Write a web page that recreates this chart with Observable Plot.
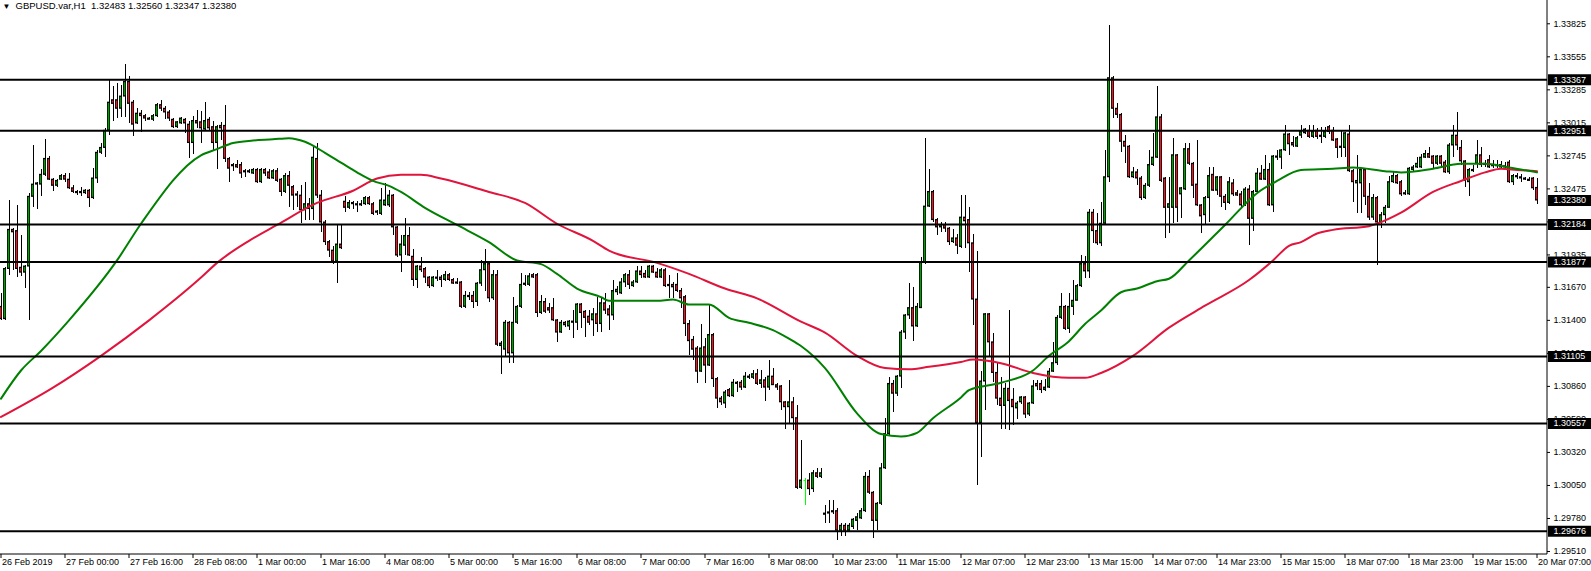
<!DOCTYPE html>
<html><head><meta charset="utf-8">
<script src="https://cdn.jsdelivr.net/npm/d3@7"></script>
<script src="https://cdn.jsdelivr.net/npm/@observablehq/plot@0.6"></script>
<style>html,body{margin:0;padding:0;background:#fff;overflow:hidden}</style>
</head><body>
<div id="chart"></div>
<script>
const symbol = "GBPUSD.var,H1";
const lastBar = [1.32483, 1.32560, 1.32347, 1.32380];

const opens = [
1.3151,1.3141,1.3182,1.3214,1.3213,1.3183,1.3179,1.3184,1.3241,1.3251,
1.3251,1.3259,1.3272,1.3255,1.3250,1.3255,1.3258,1.3255,1.3248,1.3245,
1.3245,1.3244,1.3246,1.3240,1.3256,1.3277,1.3281,1.3295,1.3320,1.3320,
1.3313,1.3323,1.3335,1.3318,1.3301,1.3309,1.3307,1.3305,1.3304,1.3307,
1.3316,1.3313,1.3310,1.3304,1.3298,1.3301,1.3304,1.3300,1.3285,1.3303,
1.3302,1.3296,1.3304,1.3298,1.3285,1.3299,1.3299,1.3272,1.3267,1.3267,
1.3267,1.3262,1.3261,1.3260,1.3263,1.3253,1.3263,1.3261,1.3256,1.3262,
1.3255,1.3245,1.3258,1.3249,1.3243,1.3242,1.3230,1.3235,1.3231,1.3272,
1.3242,1.3220,1.3204,1.3197,1.3188,1.3202,1.3237,1.3232,1.3236,1.3235,
1.3234,1.3235,1.3240,1.3235,1.3228,1.3227,1.3234,1.3234,1.3242,1.3216,
1.3193,1.3201,1.3209,1.3192,1.3173,1.3184,1.3182,1.3175,1.3168,1.3175,
1.3175,1.3173,1.3177,1.3173,1.3171,1.3171,1.3151,1.3160,1.3160,1.3155,
1.3170,1.3181,1.3186,1.3158,1.3177,1.3119,1.3116,1.3138,1.3113,1.3138,
1.3151,1.3169,1.3169,1.3177,1.3177,1.3146,1.3155,1.3150,1.3150,1.3140,
1.3130,1.3138,1.3135,1.3139,1.3138,1.3153,1.3147,1.3143,1.3140,1.3145,
1.3137,1.3154,1.3149,1.3144,1.3163,1.3162,1.3171,1.3177,1.3168,1.3171,
1.3180,1.3178,1.3175,1.3184,1.3179,1.3175,1.3181,1.3169,1.3169,1.3169,
1.3164,1.3159,1.3137,1.3124,1.3117,1.3098,1.3118,1.3103,1.3128,1.3092,
1.3076,1.3072,1.3083,1.3078,1.3089,1.3089,1.3085,1.3093,1.3093,1.3096,
1.3088,1.3091,1.3085,1.3094,1.3087,1.3086,1.3073,1.3069,1.3073,1.3060,
1.3003,1.3009,1.3009,1.3002,1.3015,1.3012,1.2982,1.2982,1.2983,1.2984,
1.2968,1.2972,1.2968,1.2971,1.2976,1.2978,1.2984,1.3012,1.2999,1.2976,
1.2990,1.3019,1.3047,1.3088,1.3080,1.3094,1.3130,1.3144,1.3150,1.3135,
1.3150,1.3187,1.3233,1.3245,1.3222,1.3216,1.3218,1.3215,1.3204,1.3207,
1.3200,1.3224,1.3222,1.3203,1.3157,1.3056,1.3090,1.3145,1.3122,1.3097,
1.3076,1.3070,1.3084,1.3075,1.3068,1.3073,1.3077,1.3063,1.3072,1.3088,
1.3088,1.3083,1.3085,1.3098,1.3105,1.3142,1.3151,1.3133,1.3151,1.3156,
1.3168,1.3186,1.3180,1.3228,1.3213,1.3203,1.3219,1.3257,1.3338,1.3313,
1.3308,1.3286,1.3282,1.3257,1.3261,1.3256,1.3240,1.3250,1.3267,1.3273,
1.3306,1.3256,1.3232,1.3232,1.3275,1.3243,1.3247,1.3280,1.3268,1.3251,
1.3234,1.3226,1.3240,1.3259,1.3246,1.3257,1.3241,1.3236,1.3252,1.3244,
1.3243,1.3234,1.3247,1.3223,1.3245,1.3260,1.3255,1.3263,1.3234,1.3274,
1.3273,1.3279,1.3292,1.3285,1.3282,1.3291,1.3293,1.3295,1.3290,1.3295,
1.3290,1.3290,1.3298,1.3295,1.3288,1.3281,1.3281,1.3292,1.3262,1.3252,
1.3252,1.3263,1.3241,1.3224,1.3240,1.3220,1.3226,1.3232,1.3253,1.3258,
1.3253,1.3243,1.3243,1.3263,1.3265,1.3265,1.3273,1.3276,1.3274,1.3268,
1.3274,1.3269,1.3261,1.3283,1.3291,1.3281,1.3270,1.3253,1.3263,1.3268,
1.3275,1.3267,1.3271,1.3266,1.3267,1.3267,1.3265,1.3269,1.3253,1.3258,
1.3257,1.3256,1.3255,1.3256,1.32483];

const highs = [
1.3162,1.3183,1.3238,1.3215,1.3234,1.3209,1.3185,1.3244,1.3283,1.3253,
1.3263,1.3288,1.3274,1.3256,1.3255,1.3259,1.3260,1.3260,1.3250,1.3246,
1.3249,1.3247,1.3247,1.3264,1.3279,1.3285,1.3297,1.3337,1.3331,1.3334,
1.3332,1.3349,1.3339,1.3320,1.3313,1.3312,1.3308,1.3306,1.3308,1.3317,
1.3320,1.3315,1.3312,1.3305,1.3303,1.3306,1.3305,1.3303,1.3307,1.3312,
1.3311,1.3318,1.3306,1.3303,1.3299,1.3302,1.3316,1.3273,1.3268,1.3271,
1.3269,1.3263,1.3263,1.3264,1.3264,1.3264,1.3264,1.3263,1.3263,1.3264,
1.3256,1.3260,1.3262,1.3250,1.3245,1.3250,1.3253,1.3240,1.3283,1.3285,
1.3246,1.3222,1.3205,1.3200,1.3218,1.3218,1.3241,1.3238,1.3237,1.3237,
1.3238,1.3241,1.3241,1.3236,1.3230,1.3248,1.3252,1.3246,1.3243,1.3217,
1.3209,1.3223,1.3216,1.3198,1.3185,1.3191,1.3183,1.3176,1.3176,1.3181,
1.3177,1.3180,1.3178,1.3174,1.3174,1.3172,1.3164,1.3163,1.3164,1.3171,
1.3189,1.3198,1.3187,1.3181,1.3181,1.3123,1.3140,1.3139,1.3159,1.3152,
1.3178,1.3177,1.3178,1.3178,1.3178,1.3160,1.3158,1.3154,1.3158,1.3141,
1.3140,1.3139,1.3140,1.3148,1.3154,1.3154,1.3148,1.3148,1.3150,1.3159,
1.3159,1.3162,1.3152,1.3173,1.3168,1.3174,1.3178,1.3181,1.3173,1.3184,
1.3184,1.3181,1.3185,1.3185,1.3182,1.3182,1.3182,1.3177,1.3171,1.3178,
1.3166,1.3160,1.3140,1.3127,1.3119,1.3137,1.3125,1.3152,1.3129,1.3093,
1.3078,1.3083,1.3084,1.3092,1.3090,1.3091,1.3097,1.3096,1.3099,1.3100,
1.3099,1.3093,1.3107,1.3101,1.3088,1.3087,1.3074,1.3091,1.3077,1.3070,
1.3042,1.3011,1.3015,1.3017,1.3019,1.3019,1.2989,1.2993,1.2993,1.2986,
1.2974,1.2974,1.2974,1.2978,1.2982,1.2986,1.3016,1.3017,1.3000,1.2991,
1.3023,1.3060,1.3093,1.3091,1.3095,1.3132,1.3145,1.3170,1.3167,1.3154,
1.3191,1.3289,1.3263,1.3246,1.3223,1.3220,1.3220,1.3216,1.3214,1.3210,
1.3242,1.3242,1.3232,1.3210,1.3196,1.3098,1.3146,1.3146,1.3129,1.3105,
1.3093,1.3088,1.3148,1.3084,1.3074,1.3078,1.3078,1.3073,1.3091,1.3091,
1.3091,1.3092,1.3101,1.3122,1.3144,1.3162,1.3152,1.3162,1.3173,1.3169,
1.3193,1.3192,1.3231,1.3231,1.3227,1.3236,1.3279,1.3381,1.3339,1.3317,
1.3309,1.3291,1.3283,1.3265,1.3263,1.3258,1.3252,1.3279,1.3293,1.3331,
1.3308,1.3257,1.3257,1.3289,1.3276,1.3249,1.3285,1.3285,1.3269,1.3287,
1.3235,1.3241,1.3265,1.3265,1.3258,1.3258,1.3243,1.3257,1.3255,1.3246,
1.3245,1.3249,1.3250,1.3246,1.3264,1.3267,1.3275,1.3268,1.3275,1.3279,
1.3280,1.3299,1.3293,1.3290,1.3290,1.3299,1.3297,1.3299,1.3299,1.3297,
1.3298,1.3298,1.3299,1.3298,1.3289,1.3295,1.3294,1.3299,1.3263,1.3275,
1.3264,1.3263,1.3252,1.3243,1.3241,1.3228,1.3234,1.3258,1.3261,1.3259,
1.3254,1.3246,1.3265,1.3267,1.3273,1.3276,1.3279,1.3281,1.3275,1.3275,
1.3275,1.3271,1.3285,1.3299,1.3310,1.3287,1.3271,1.3264,1.3267,1.3287,
1.3281,1.3271,1.3275,1.3271,1.3271,1.3270,1.3269,1.3271,1.3259,1.3260,
1.3259,1.3257,1.3257,1.3257,1.32560];

const lows = [
1.3140,1.3140,1.3177,1.3181,1.3175,1.3176,1.3166,1.3140,1.3232,1.3231,
1.3241,1.3258,1.3254,1.3245,1.3249,1.3254,1.3253,1.3247,1.3244,1.3242,
1.3241,1.3243,1.3232,1.3239,1.3252,1.3276,1.3273,1.3291,1.3303,1.3305,
1.3306,1.3306,1.3301,1.3290,1.3300,1.3294,1.3303,1.3304,1.3303,1.3306,
1.3311,1.3304,1.3303,1.3297,1.3297,1.3300,1.3293,1.3272,1.3276,1.3297,
1.3285,1.3295,1.3295,1.3279,1.3263,1.3287,1.3269,1.3253,1.3262,1.3264,
1.3256,1.3257,1.3260,1.3259,1.3252,1.3252,1.3258,1.3255,1.3255,1.3253,
1.3241,1.3244,1.3232,1.3230,1.3232,1.3219,1.3222,1.3222,1.3222,1.3240,
1.3212,1.3201,1.3191,1.3186,1.3170,1.3198,1.3228,1.3231,1.3231,1.3228,
1.3233,1.3234,1.3234,1.3226,1.3226,1.3226,1.3233,1.3232,1.3209,1.3191,
1.3179,1.3193,1.3192,1.3168,1.3166,1.3179,1.3170,1.3166,1.3167,1.3172,
1.3167,1.3172,1.3172,1.3169,1.3169,1.3150,1.3150,1.3156,1.3150,1.3151,
1.3168,1.3164,1.3155,1.3156,1.3119,1.3096,1.3110,1.3105,1.3105,1.3137,
1.3150,1.3168,1.3168,1.3174,1.3142,1.3145,1.3146,1.3146,1.3139,1.3122,
1.3129,1.3134,1.3132,1.3125,1.3132,1.3133,1.3126,1.3136,1.3127,1.3130,
1.3130,1.3145,1.3132,1.3140,1.3160,1.3161,1.3167,1.3165,1.3167,1.3170,
1.3174,1.3174,1.3174,1.3178,1.3174,1.3174,1.3167,1.3158,1.3158,1.3163,
1.3150,1.3127,1.3111,1.3107,1.3088,1.3097,1.3088,1.3102,1.3085,1.3068,
1.3070,1.3068,1.3077,1.3077,1.3081,1.3083,1.3084,1.3092,1.3092,1.3087,
1.3084,1.3074,1.3083,1.3087,1.3083,1.3066,1.3051,1.3056,1.3050,1.3002,
1.3002,1.2989,1.2997,1.2999,1.3011,1.3011,1.2974,1.2974,1.2981,1.2960,
1.2963,1.2963,1.2967,1.2969,1.2968,1.2977,1.2983,1.2998,1.2962,1.2968,
1.2989,1.3018,1.3046,1.3065,1.3078,1.3084,1.3124,1.3141,1.3123,1.3134,
1.3150,1.3186,1.3232,1.3220,1.3209,1.3212,1.3212,1.3201,1.3203,1.3194,
1.3199,1.3199,1.3179,1.3136,1.3005,1.3028,1.3066,1.3110,1.3089,1.3070,
1.3051,1.3051,1.3050,1.3054,1.3059,1.3071,1.3060,1.3061,1.3071,1.3083,
1.3080,1.3082,1.3084,1.3097,1.3103,1.3141,1.3132,1.3129,1.3144,1.3156,
1.3167,1.3174,1.3174,1.3203,1.3201,1.3200,1.3218,1.3253,1.3305,1.3305,
1.3277,1.3268,1.3256,1.3256,1.3250,1.3238,1.3239,1.3249,1.3266,1.3272,
1.3253,1.3207,1.3211,1.3219,1.3220,1.3223,1.3246,1.3267,1.3240,1.3233,
1.3211,1.3218,1.3220,1.3245,1.3242,1.3232,1.3230,1.3235,1.3241,1.3241,
1.3232,1.3233,1.3201,1.3213,1.3244,1.3254,1.3254,1.3233,1.3228,1.3271,
1.3263,1.3278,1.3275,1.3281,1.3281,1.3289,1.3292,1.3289,1.3289,1.3288,
1.3285,1.3289,1.3292,1.3286,1.3272,1.3273,1.3273,1.3261,1.3236,1.3227,
1.3227,1.3234,1.3222,1.3222,1.3185,1.3215,1.3219,1.3232,1.3252,1.3251,
1.3241,1.3242,1.3242,1.3262,1.3264,1.3264,1.3272,1.3272,1.3264,1.3267,
1.3264,1.3260,1.3259,1.3273,1.3279,1.3267,1.3249,1.3241,1.3261,1.3264,
1.3265,1.3265,1.3264,1.3264,1.3264,1.3264,1.3264,1.3252,1.3250,1.3255,
1.3253,1.3254,1.3254,1.3246,1.32347];

const closes = [
1.3141,1.3182,1.3214,1.3212,1.3182,1.3179,1.3184,1.3241,1.3251,1.3252,
1.3259,1.3272,1.3255,1.3250,1.3254,1.3258,1.3255,1.3248,1.3245,1.3244,
1.3244,1.3246,1.3240,1.3256,1.3277,1.3281,1.3295,1.3318,1.3317,1.3313,
1.3323,1.3335,1.3317,1.3300,1.3309,1.3307,1.3305,1.3304,1.3307,1.3316,
1.3313,1.3310,1.3305,1.3298,1.3302,1.3305,1.3301,1.3285,1.3303,1.3301,
1.3297,1.3303,1.3297,1.3285,1.3298,1.3297,1.3272,1.3264,1.3266,1.3265,
1.3260,1.3261,1.3262,1.3263,1.3253,1.3263,1.3260,1.3256,1.3262,1.3254,
1.3245,1.3258,1.3250,1.3242,1.3242,1.3230,1.3235,1.3231,1.3273,1.3242,
1.3220,1.3204,1.3197,1.3188,1.3202,1.3199,1.3232,1.3236,1.3235,1.3234,
1.3235,1.3240,1.3235,1.3227,1.3229,1.3238,1.3238,1.3242,1.3216,1.3193,
1.3202,1.3209,1.3193,1.3173,1.3184,1.3181,1.3175,1.3168,1.3175,1.3174,
1.3173,1.3177,1.3173,1.3170,1.3170,1.3151,1.3160,1.3159,1.3155,1.3170,
1.3181,1.3186,1.3158,1.3177,1.3120,1.3121,1.3138,1.3113,1.3138,1.3151,
1.3169,1.3170,1.3176,1.3175,1.3146,1.3155,1.3147,1.3148,1.3140,1.3130,
1.3138,1.3136,1.3139,1.3138,1.3153,1.3146,1.3142,1.3138,1.3145,1.3137,
1.3154,1.3148,1.3144,1.3164,1.3165,1.3171,1.3177,1.3169,1.3171,1.3180,
1.3177,1.3175,1.3184,1.3179,1.3175,1.3181,1.3168,1.3168,1.3167,1.3164,
1.3158,1.3137,1.3123,1.3116,1.3098,1.3117,1.3103,1.3128,1.3092,1.3076,
1.3073,1.3081,1.3078,1.3089,1.3088,1.3085,1.3094,1.3094,1.3096,1.3088,
1.3091,1.3085,1.3094,1.3087,1.3085,1.3073,1.3069,1.3073,1.3060,1.3003,
1.3009,1.3009,1.3002,1.3015,1.3012,1.3015,1.2981,1.2983,1.2984,1.2968,
1.2972,1.2968,1.2972,1.2977,1.2979,1.2984,1.3012,1.2999,1.2976,1.2990,
1.3019,1.3047,1.3088,1.3080,1.3094,1.3130,1.3144,1.3150,1.3135,1.3151,
1.3187,1.3233,1.3245,1.3222,1.3216,1.3218,1.3215,1.3204,1.3207,1.3201,
1.3224,1.3221,1.3203,1.3157,1.3056,1.3090,1.3145,1.3122,1.3097,1.3076,
1.3070,1.3084,1.3074,1.3069,1.3072,1.3077,1.3063,1.3072,1.3086,1.3086,
1.3083,1.3085,1.3098,1.3105,1.3142,1.3151,1.3133,1.3151,1.3156,1.3168,
1.3186,1.3180,1.3228,1.3213,1.3203,1.3219,1.3257,1.3338,1.3313,1.3308,
1.3286,1.3282,1.3257,1.3261,1.3256,1.3240,1.3250,1.3267,1.3273,1.3306,
1.3254,1.3232,1.3235,1.3275,1.3232,1.3248,1.3280,1.3268,1.3250,1.3234,
1.3225,1.3240,1.3258,1.3246,1.3257,1.3241,1.3236,1.3253,1.3243,1.3242,
1.3234,1.3247,1.3223,1.3245,1.3260,1.3255,1.3263,1.3234,1.3274,1.3273,
1.3279,1.3292,1.3284,1.3283,1.3289,1.3294,1.3296,1.3290,1.3294,1.3290,
1.3291,1.3294,1.3294,1.3287,1.3281,1.3282,1.3293,1.3262,1.3253,1.3254,
1.3263,1.3241,1.3224,1.3240,1.3220,1.3226,1.3232,1.3253,1.3258,1.3252,
1.3243,1.3244,1.3264,1.3265,1.3268,1.3273,1.3276,1.3273,1.3268,1.3274,
1.3268,1.3261,1.3283,1.3291,1.3283,1.3270,1.3254,1.3263,1.3262,1.3275,
1.3267,1.3268,1.3265,1.3267,1.3266,1.3265,1.3266,1.3253,1.3258,1.3257,
1.3256,1.3255,1.3254,1.3248,1.32380];

// Moving averages (bar index, price)
const maFastBars = [0,5,10,17,29,35,50,54,58,63,68,72,76,81,85,89,93,97,100,106,114,122,129,135,139,144,150,152,164,168,172,177,182,187,193,197,200,206,214,220,225,229,233,240,242,250,258,262,267,271,275,280,284,289,292,297,306,314,319,325,333,338,346,350,358,365,371,377,384];
const maFastValues = [1.3076,1.3099,1.3115,1.3140,1.3189,1.3219,1.3275,1.3280,1.3285,1.3287,1.3288,1.3289,1.3286,1.3277,1.3269,1.3261,1.3254,1.3250,1.3245,1.3232,1.3218,1.3204,1.3189,1.3186,1.3178,1.3166,1.3159,1.3156,1.3156,1.3157,1.3153,1.3153,1.3142,1.3138,1.3132,1.3125,1.3119,1.3101,1.3064,1.3047,1.3045,1.3048,1.3060,1.3077,1.3083,1.3089,1.3099,1.3111,1.3123,1.3137,1.3148,1.3163,1.3166,1.3172,1.3174,1.3189,1.3218,1.3244,1.3254,1.3263,1.3264,1.3265,1.3262,1.3261,1.3264,1.3268,1.3268,1.3265,1.3261];
const maSlowBars = [0,13,25,37,50,54,62,69,79,88,94,100,105,110,122,131,139,148,152,164,172,181,189,200,206,214,221,227,232,240,243,250,258,267,271,275,283,292,301,312,318,322,325,329,333,342,344,350,358,365,371,375,379,384];
const maSlowValues = [1.3061,1.3085,1.3111,1.3140,1.3175,1.3187,1.3205,1.3218,1.3236,1.3246,1.3256,1.3259,1.3259,1.3256,1.3245,1.3236,1.3219,1.3205,1.3197,1.3187,1.3178,1.3166,1.3158,1.3139,1.3130,1.3111,1.3101,1.3100,1.3102,1.3106,1.3108,1.3105,1.3097,1.3093,1.3093,1.3097,1.3111,1.3134,1.3152,1.3173,1.3189,1.3201,1.3204,1.3211,1.3214,1.3217,1.3219,1.3228,1.3245,1.3254,1.3261,1.3264,1.3263,1.3262];

const levels = [1.33367, 1.32951, 1.32184, 1.31877, 1.31105, 1.30557, 1.29676];
const priceTicks = [1.33825,1.33555,1.33285,1.33015,1.32745,1.32475,1.32205,1.31935,1.31670,1.31400,1.31130,1.30860,1.30590,1.30320,1.30050,1.29780,1.29510];
const timeLabels = ["26 Feb 2019","27 Feb 00:00","27 Feb 16:00","28 Feb 08:00","1 Mar 00:00","1 Mar 16:00","4 Mar 08:00","5 Mar 00:00","5 Mar 16:00","6 Mar 08:00","7 Mar 00:00","7 Mar 16:00","8 Mar 08:00","10 Mar 23:00","11 Mar 15:00","12 Mar 07:00","12 Mar 23:00","13 Mar 15:00","14 Mar 07:00","14 Mar 23:00","15 Mar 15:00","18 Mar 07:00","18 Mar 23:00","19 Mar 15:00","20 Mar 07:00"];
const barsPerLabel = 16;

// ---- build ----
const W = 1591, H = 571;
const mR = 44, mB = 17;
const xDomain = [-0.125, 386.625];
const yDomain = [1.294854, 1.340155];
const plotH = H - mB;
const pricePerPx = (yDomain[1] - yDomain[0]) / plotH;
const barsPerPx = (xDomain[1] - xDomain[0]) / (W - mR);

const candles = opens.map((o, i) => ({i, o, h: highs[i], l: lows[i], c: closes[i]}));
const tickBars = timeLabels.map((_, k) => k * barsPerLabel);
const fast = maFastBars.map((b, k) => ({b, v: maFastValues[k]}));
const slow = maSlowBars.map((b, k) => ({b, v: maSlowValues[k]}));
const boxes = [...levels, closes[closes.length - 1]];
const header = `${symbol}  ${lastBar.map(v => v.toFixed(5)).join(" ")}`;
const xr = xDomain[1];
const outerHalf = 1.5 * barsPerPx;   // 3 px body incl. outline
const innerHalf = 0.75 * barsPerPx;  // coloured core

const chart = Plot.plot({
  width: W, height: H,
  marginLeft: 0, marginRight: mR, marginTop: 0, marginBottom: mB,
  x: {domain: xDomain, axis: null},
  y: {domain: yDomain, axis: null},
  style: {fontFamily: "'Liberation Sans', Arial, sans-serif", fontSize: "9px", background: "#fff", overflow: "visible"},
  marks: [
    // wicks
    Plot.ruleX(candles, {x: "i", y1: "l", y2: "h", stroke: d => d.o === d.c ? "#00ff00" : "#000", strokeWidth: 1, shapeRendering: "crispEdges"}),
    // body outline
    Plot.rect(candles, {filter: d => d.c !== d.o, x1: d => d.i - outerHalf, x2: d => d.i + outerHalf, y1: "o", y2: "c", fill: "#000", insetTop: -0.5, insetBottom: -0.5}),
    // body colour
    Plot.rect(candles, {filter: d => d.c > d.o && Math.abs(d.c - d.o) > 2.2 * pricePerPx, x1: d => d.i - innerHalf, x2: d => d.i + innerHalf, y1: "o", y2: "c", fill: "#00a000", insetTop: 0.8, insetBottom: 0.8}),
    Plot.rect(candles, {filter: d => d.c < d.o && Math.abs(d.c - d.o) > 2.2 * pricePerPx, x1: d => d.i - innerHalf, x2: d => d.i + innerHalf, y1: "o", y2: "c", fill: "#d8202c", insetTop: 0.8, insetBottom: 0.8}),
    Plot.ruleY(candles, {filter: d => d.c === d.o, y: "o", x1: d => d.i - 0.25, x2: d => d.i + 0.25, stroke: "#00ff00"}),
    // moving averages
    Plot.line(slow, {x: "b", y: "v", stroke: "#e0143c", strokeWidth: 2, curve: "monotone-x"}),
    Plot.line(fast, {x: "b", y: "v", stroke: "#008000", strokeWidth: 2, curve: "monotone-x"}),
    // horizontal levels
    Plot.ruleY(levels, {stroke: "#000", strokeWidth: 2}),
    // axis lines
    Plot.ruleX([xr - 0.125], {stroke: "#000", strokeWidth: 1}),
    Plot.ruleY([yDomain[0] + pricePerPx * 0.5], {x1: xDomain[0], x2: xr, stroke: "#000", strokeWidth: 1}),
    // price axis
    Plot.ruleY(priceTicks, {x1: xr, x2: xr + 3 * barsPerPx, stroke: "#000"}),
    Plot.text(priceTicks, {x: xr, y: d => d, text: d => d.toFixed(5), textAnchor: "start", dx: 6, fill: "#000", fontSize: 9}),
    // level / bid price boxes
    Plot.ruleY(boxes, {x1: xr + 0.25, x2: xr + 11, stroke: "#000", strokeWidth: 11}),
    Plot.text(boxes, {x: xr, y: d => d, text: d => d.toFixed(5), textAnchor: "start", dx: 6, fill: "#fff", fontSize: 9}),
    // time axis
    Plot.ruleX(tickBars, {y1: yDomain[0], y2: yDomain[0] - 4 * pricePerPx, stroke: "#000"}),
    Plot.text(tickBars, {x: d => d, y: yDomain[0], text: (d, k) => timeLabels[k], textAnchor: "start", lineAnchor: "top", dx: 1, dy: 4, fill: "#000", fontSize: 9}),
    // header
    Plot.text(["\u25BC"], {frameAnchor: "top-left", dx: 2, dy: 3, lineAnchor: "top", textAnchor: "start", fontSize: 8, fill: "#000"}),
    Plot.text([header], {frameAnchor: "top-left", dx: 15, dy: 2, lineAnchor: "top", textAnchor: "start", fontSize: 9.5, fill: "#000"})
  ]
});
document.getElementById("chart").appendChild(chart);
</script>
</body></html>
